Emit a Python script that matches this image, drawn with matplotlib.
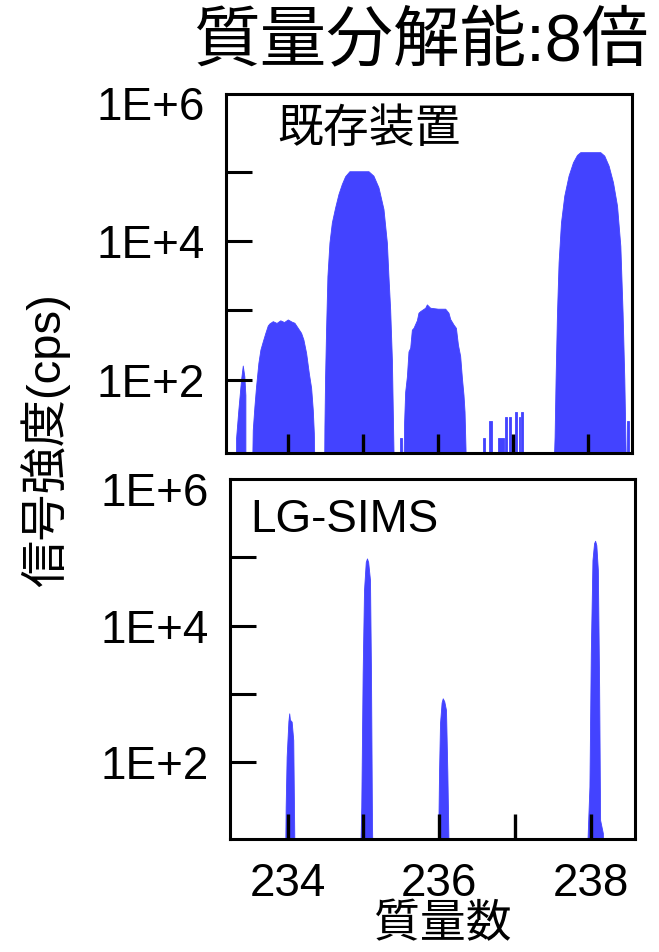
import matplotlib
matplotlib.use("Agg")
import matplotlib.pyplot as plt
import numpy as np

plt.rcParams['font.family'] = ['Liberation Sans', 'Noto Sans CJK JP']

BLUE = '#4343FF'

# --- 既存装置 (upper panel): outlines of each peak, mass vs cps ---
old_233_x = [233.311, 233.311, 233.341, 233.377, 233.400, 233.421, 233.435, 233.435]
old_233_y = [5, 14.5, 36.7, 100, 160, 112, 60, 5]

old_234_x = [233.524, 233.533, 233.555, 233.577, 233.608, 233.635, 233.667, 233.701, 233.733,
             233.755, 233.80, 233.85, 233.90, 233.95, 234.0, 234.05, 234.088, 234.133,
             234.177, 234.208, 234.244, 234.28, 234.311, 234.333, 234.347, 234.355]
old_234_y = [5, 18.8, 41, 80, 175, 272, 359, 475, 606, 649, 700, 660, 720, 680, 741, 690,
             664, 561, 475, 380, 244, 125, 76, 36.7, 16.9, 5]

old_235_x = [234.484, 234.488, 234.497, 234.511, 234.528, 234.555, 234.587, 234.631, 234.675,
             234.72, 234.764, 234.821, 235.075, 235.141, 235.208, 235.275, 235.32, 235.341,
             235.364, 235.387, 235.408, 235.417]
old_235_y = [5, 21, 112, 592, 3140, 9570, 18660, 30800, 48000, 67000, 86700, 102400, 102400,
             88300, 60000, 29100, 9570, 3140, 1033, 195, 9.7, 5]

old_236_x = [235.541, 235.55, 235.564, 235.587, 235.608, 235.631, 235.653, 235.675, 235.72,
             235.741, 235.764, 235.831, 235.853, 235.897, 236.0, 236.097, 236.141, 236.164,
             236.208, 236.24, 236.267, 236.297, 236.32, 236.341, 236.355, 236.368, 236.373]
old_236_y = [5, 24.9, 67, 112, 256, 289, 527, 561, 723, 927, 977, 1094, 1222, 1094, 1060, 1060,
             927, 752, 626, 561, 321, 219, 106, 60.6, 34.7, 10, 5]

old_238_x = [237.541, 237.555, 237.568, 237.587, 237.608, 237.64, 237.684, 237.741, 237.80,
             237.853, 237.897, 238.164, 238.217, 238.275, 238.333, 238.387, 238.431, 238.461,
             238.484, 238.501, 238.505]
old_238_y = [5, 15, 100, 927, 4910, 18660, 45400, 88300, 138000, 176000, 193000, 193000,
             172000, 123000, 71000, 32500, 8550, 927, 100, 9.7, 5]

# narrow noise spikes (left edge, right edge, height)
noise_left = [235.497, 236.595, 236.675, 236.795, 236.897, 236.941, 237.027, 237.075, 237.111, 238.52]
noise_right = [235.52, 236.621, 236.72, 236.875, 236.92, 236.973, 237.053, 237.097, 237.137, 238.541]
noise_height = [14.6, 14.4, 24.9, 14.4, 29.4, 29.4, 34.7, 29.4, 34.7, 24.9]

# --- LG-SIMS (lower panel) ---
lg_234_x = [233.968, 233.974, 233.987, 234.010, 234.021, 234.030, 234.053, 234.074, 234.087, 234.090]
lg_234_y = [5, 22.4, 121, 400, 520, 420, 393, 212, 10, 5]

lg_235_x = [234.958, 234.971, 234.989, 235.007, 235.030, 235.046, 235.062, 235.086, 235.099,
            235.112, 235.118]
lg_235_y = [5, 22.4, 2000, 33000, 85000, 96000, 85000, 46200, 2000, 13, 5]

lg_236_x = [235.983, 235.996, 236.009, 236.030, 236.045, 236.065, 236.088, 236.106, 236.119, 236.122]
lg_236_y = [5, 69, 372, 750, 863, 780, 582, 69, 9, 5]

lg_238_x = [237.948, 237.966, 237.979, 237.997, 238.019, 238.040, 238.054, 238.070, 238.090,
            238.107, 238.120, 238.156, 238.158]
lg_238_y = [5, 18, 44, 3930, 90800, 160000, 174000, 150000, 65200, 1270, 14.3, 9.2, 5]

mass_ticks = [234, 235, 236, 237, 238]
mass_labels = ['234', '', '236', '', '238']
cps_ticks = [1e2, 1e3, 1e4, 1e5, 1e6]
cps_labels = ['1E+2', '', '1E+4', '', '1E+6']


fig = plt.figure(figsize=(6.59, 9.52), dpi=100)
ax1 = fig.add_axes([0.343, 0.5245, 0.6161, 0.3768])
ax2 = fig.add_axes([0.349, 0.1184, 0.6146, 0.3782])

old_peaks = [(old_233_x, old_233_y), (old_234_x, old_234_y), (old_235_x, old_235_y),
             (old_236_x, old_236_y), (old_238_x, old_238_y)]
for px, py in old_peaks:
    ax1.fill_between(px, py, 1, color=BLUE, linewidth=0.6, edgecolor=BLUE)
widths = np.array(noise_right) - np.array(noise_left)
ax1.bar(noise_left, np.array(noise_height) - 1, width=widths, bottom=1, align='edge',
        color=BLUE, linewidth=0.6, edgecolor=BLUE)

lg_peaks = [(lg_234_x, lg_234_y), (lg_235_x, lg_235_y), (lg_236_x, lg_236_y), (lg_238_x, lg_238_y)]
for px, py in lg_peaks:
    ax2.fill_between(px, py, 1, color=BLUE, linewidth=0.6, edgecolor=BLUE)

for ax, ylim, xlim, xlen in [(ax1, (10**0.946, 10**6.126), (233.177, 238.587), 14),
                             (ax2, (10**0.874, 10**6.14), (233.24, 238.58), 18)]:
    ax.set_yscale('log')
    ax.set_ylim(*ylim)
    ax.set_xlim(*xlim)
    ax.set_yticks(cps_ticks)
    ax.set_yticklabels(cps_labels)
    ax.yaxis.set_minor_locator(matplotlib.ticker.NullLocator())
    ax.set_xticks(mass_ticks)
    ax.tick_params(axis='y', direction='in', length=19, width=2.2, labelsize=33, pad=15)
    ax.tick_params(axis='x', direction='in', length=xlen, width=2.4, labelsize=33, pad=16)
    ax.yaxis.get_major_ticks()[-1].tick1line.set_visible(False)
    for s in ax.spines.values():
        s.set_linewidth(2.2)

ax1.set_xticklabels([])
ax2.set_xticklabels(mass_labels)

ax1.text(0.126, 0.90, '既存装置', transform=ax1.transAxes, fontsize=33, va='center', ha='left')
ax2.text(0.049, 0.887, 'LG-SIMS', transform=ax2.transAxes, fontsize=33, va='center', ha='left')

fig.text(0.638, 0.953, '質量分解能:8倍', fontsize=48, ha='center', va='center')
fig.text(0.068, 0.538, '信号強度(cps)', fontsize=34, rotation=90, ha='center', va='center')
fig.text(0.672, 0.028, '質量数', fontsize=33, ha='center', va='center')

fig.savefig('out.png', dpi=100)
